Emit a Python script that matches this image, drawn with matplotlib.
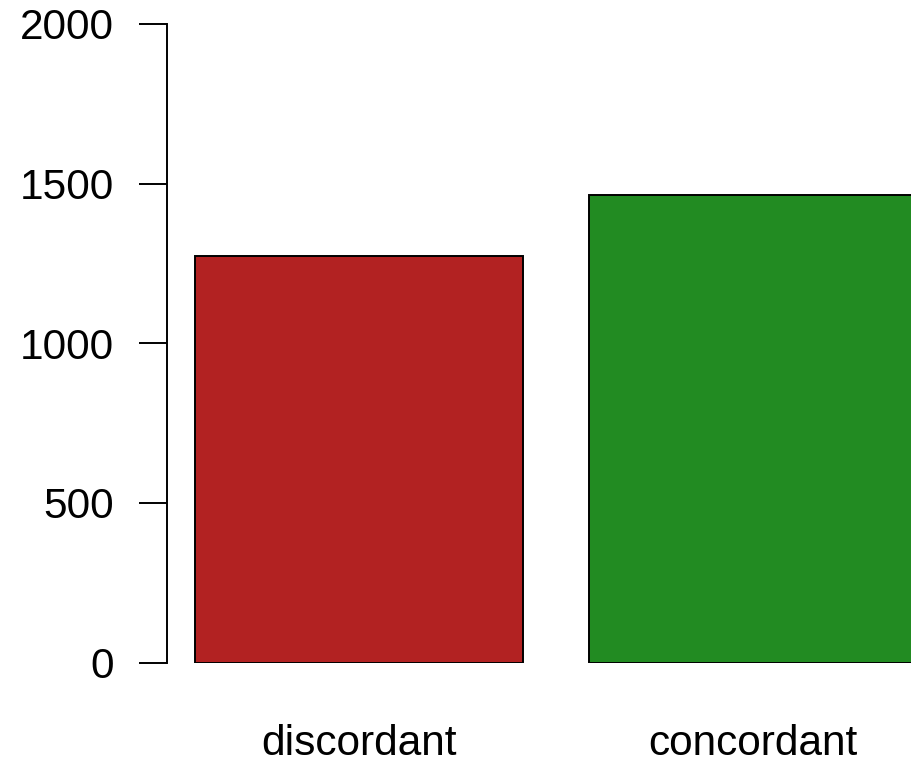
import matplotlib.pyplot as plt

categories = ["discordant", "concordant"]
counts = [1272, 1464]
colors = ["#B22222", "#228B22"]
yticks = [0, 500, 1000, 1500, 2000]

plt.rcParams['font.family'] = ['Liberation Sans', 'DejaVu Sans']

fig = plt.figure(figsize=(9.11, 7.63), dpi=100)
ax = fig.add_axes([166.5 / 911, 100.5 / 763, 1 - 166.5 / 911, 638.5 / 763])

# R-style barplot: width 1, space 0.2
centers = [0.7, 1.9]
ax.bar(centers, counts, width=1.0, color=colors, edgecolor="black", linewidth=1.4)

ax.set_xlim(0.113, 2.383)
ax.set_ylim(0, 2000)
ax.set_yticks(yticks)
ax.set_yticklabels([str(v) for v in yticks])
ax.set_xticks(centers)
ax.set_xticklabels(categories)

for s in ["top", "right", "bottom"]:
    ax.spines[s].set_visible(False)
ax.spines["left"].set_linewidth(1.4)

ax.tick_params(axis="y", length=20, width=1.4, pad=18, labelsize=30.5, colors="black")
ax.tick_params(axis="x", length=0, pad=44, labelsize=30.5)

fig.savefig("out.png", dpi=100)
